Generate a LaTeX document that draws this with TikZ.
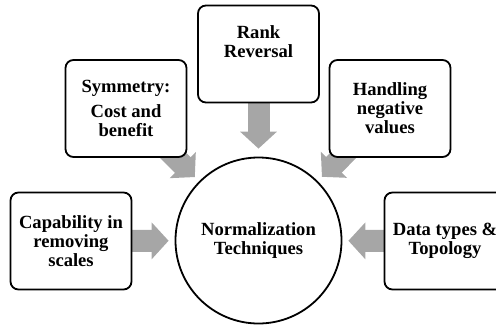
\documentclass[tikz,border=0pt]{standalone}
\usepackage{fontspec}
\setmainfont{Liberation Serif}
\usetikzlibrary{arrows.meta,backgrounds}
\definecolor{arrowgray}{HTML}{A6A6A6}
\begin{document}
\begin{tikzpicture}[x=1pt,y=-1pt,
    box/.style={draw, line width=1.8pt, rounded corners=8pt, fill=white,
      minimum width=121pt, minimum height=97pt, inner sep=0pt, align=center,
      font=\bfseries\fontsize{18.6}{19}\selectfont},
    hub/.style={draw, circle, line width=1.8pt, fill=white, minimum size=166pt,
      inner sep=0pt, align=center, font=\bfseries\fontsize{18.6}{19.5}\selectfont},
    feed/.style={arrowgray, line width=22pt, -{Triangle[width=36pt,length=17pt]}}]
    \useasboundingbox (0,0) rectangle (496,325);
    \clip (0,0) rectangle (496,325);

    \node[hub] (norm) at (258.5,240.5) {Normalization\\Techniques};

    \node[box] (rank) at (258.5,54) {Rank\\Reversal\\[6pt]~};
    \node[box] (sym) at (126,108.5) {Symmetry:\\[6pt]Cost and\\benefit};
    \node[box] (hand) at (390,108.5) {Handling\\negative\\values};
    \node[box] (cap) at (71,241) {Capability in\\removing\\scales};
    \node[box] (data) at (445,241) {Data types \&\\Topology};

    \begin{scope}[on background layer]
      \draw[feed, shorten >=8pt] (rank.center) -- (norm);
      \draw[feed, shorten >=6pt] (sym.center) -- (norm);
      \draw[feed, shorten >=6pt] (hand.center) -- (norm);
      \draw[feed, shorten >=6pt] (cap.center) -- (norm);
      \draw[feed, shorten >=6pt] (data.center) -- (norm);
    \end{scope}
  \end{tikzpicture}
\end{document}
